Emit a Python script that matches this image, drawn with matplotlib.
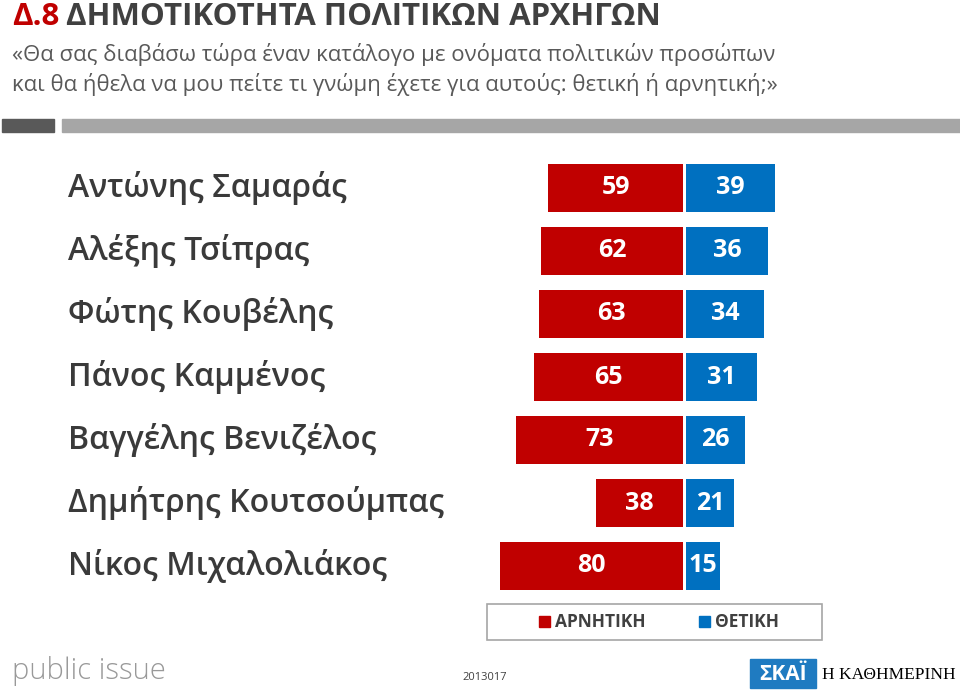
import matplotlib.pyplot as plt
from matplotlib.patches import Rectangle

plt.rcParams['font.family'] = ['Open Sans', 'DejaVu Sans']

names = ["Αντώνης Σαμαράς", "Αλέξης Τσίπρας", "Φώτης Κουβέλης", "Πάνος Καμμένος",
         "Βαγγέλης Βενιζέλος", "Δημήτρης Κουτσούμπας", "Νίκος Μιχαλολιάκος"]
negative = [59, 62, 63, 65, 73, 38, 80]
positive = [39, 36, 34, 31, 26, 21, 15]

RED = "#C00000"
BLUE = "#0070C0"

fig = plt.figure(figsize=(9.6, 6.9), dpi=100)

def px(x, y):
    return x / 960, 1 - y / 690

# header
fig.text(*px(12, 17), "Δ.8", color=RED, fontsize=22.5, fontweight="bold", va="center")
fig.text(*px(66, 17), "ΔΗΜΟΤΙΚΟΤΗΤΑ ΠΟΛΙΤΙΚΩΝ ΑΡΧΗΓΩΝ", color="#404040", fontsize=22.5,
         fontweight="bold", va="center")
fig.text(*px(12, 54), "«Θα σας διαβάσω τώρα έναν κατάλογο με ονόματα πολιτικών προσώπων",
         color="#595959", fontsize=16, va="center")
fig.text(*px(12, 85), "και θα ήθελα να μου πείτε τι γνώμη έχετε για αυτούς: θετική ή αρνητική;»",
         color="#595959", fontsize=16, va="center")
fig.patches.append(Rectangle(px(2, 132), 52 / 960, 13 / 690, transform=fig.transFigure,
                             color="#595959"))
fig.patches.append(Rectangle(px(62, 132), 898 / 960, 13 / 690, transform=fig.transFigure,
                             color="#A6A6A6"))

# bars
ax = fig.add_axes([0.5, 1 - 600 / 690, 320 / 960, 450 / 690])
scale = 2.285
ax.set_xlim((480 - 684.5) / scale, (800 - 684.5) / scale)
ax.set_ylim(6 + 34 / 63, -38 / 63)
ax.axis("off")
gap = 0.65
rows = range(len(names))
ax.barh(rows, [-v for v in negative], left=-gap, height=0.75, color=RED)
ax.barh(rows, positive, left=gap, height=0.75, color=BLUE)
for i in rows:
    ax.text(-gap - negative[i] / 2, i, str(negative[i]), color="white", fontsize=18,
            fontweight="bold", ha="center", va="center")
    ax.text(gap + positive[i] / 2, i, str(positive[i]), color="white", fontsize=18,
            fontweight="bold", ha="center", va="center")
    fig.text(*px(68, 188 + 63 * i), names[i], color="#3A3A3A", fontsize=23,
             fontweight="semibold", va="center")

# legend
fig.patches.append(Rectangle(px(487, 640), 335 / 960, 36 / 690, transform=fig.transFigure,
                             facecolor="white", edgecolor="#A6A6A6", linewidth=1.2))
fig.patches.append(Rectangle(px(539, 627), 11 / 960, 11 / 690, transform=fig.transFigure,
                             color=RED))
fig.text(*px(555, 622), "ΑΡΝΗΤΙΚΗ", color="#404040", fontsize=12.5, fontweight="bold",
         va="center")
fig.patches.append(Rectangle(px(699, 627), 11 / 960, 11 / 690, transform=fig.transFigure,
                             color=BLUE))
fig.text(*px(715, 622), "ΘΕΤΙΚΗ", color="#404040", fontsize=12.5, fontweight="bold",
         va="center")

# footer
fig.text(*px(12, 671), "public issue", color="#999999", fontsize=21, fontweight="light",
         va="center")
fig.text(*px(462, 678), "2013017", color="#404040", fontsize=8, va="center")
fig.patches.append(Rectangle(px(750, 688), 66 / 960, 29 / 690, transform=fig.transFigure,
                             color="#1F7BC1"))
fig.text(*px(783, 674), "ΣΚΑΪ", color="white", fontsize=15, fontweight="bold",
         ha="center", va="center")
fig.text(*px(822, 675), "Η ΚΑΘΗΜΕΡΙΝΗ", color="black", fontsize=12.5,
         family="Liberation Serif", ha="left", va="center")

fig.savefig("out.png", dpi=100)
